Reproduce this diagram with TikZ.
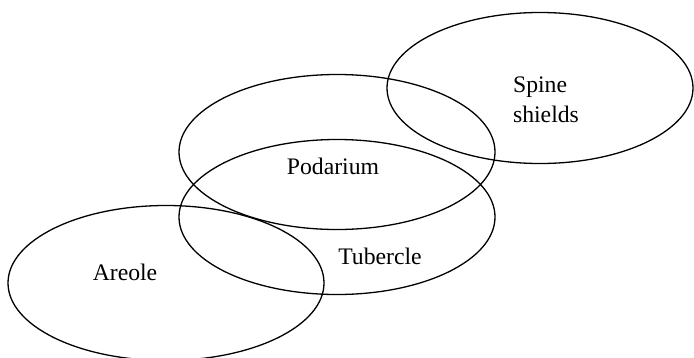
\documentclass[tikz,border=0pt]{standalone}
\usepackage{fontspec}
\setmainfont{Liberation Serif}
\usepackage{tikz}
\usetikzlibrary{shapes.geometric}
\tikzset{
  part/.style={draw, ellipse, line width=1.3pt,
    minimum width=316pt, minimum height=155pt, inner sep=0pt},
  partlabel/.style={font=\fontsize{23.7}{30}\selectfont, align=left, inner sep=0pt}
}

\begin{document}
\begin{tikzpicture}[x=1pt,y=-1pt]
\useasboundingbox (0,0) rectangle (694,357);
\node[part, minimum width=306pt, minimum height=151pt] (spine) at (540,88) {};
\node[part] (podarium) at (337,152) {};
\node[part] (tubercle) at (337,217) {};
\node[part] (areole) at (166,283) {};
\node at (546,100) [partlabel] (spinetext) {Spine\\shields};
\node at (333,166) [partlabel] (podariumtext) {Podarium};
\node at (380,256) [partlabel] (tubercletext) {Tubercle};
\node at (125,272) [partlabel] (areoletext) {Areole};
\end{tikzpicture}
\end{document}
